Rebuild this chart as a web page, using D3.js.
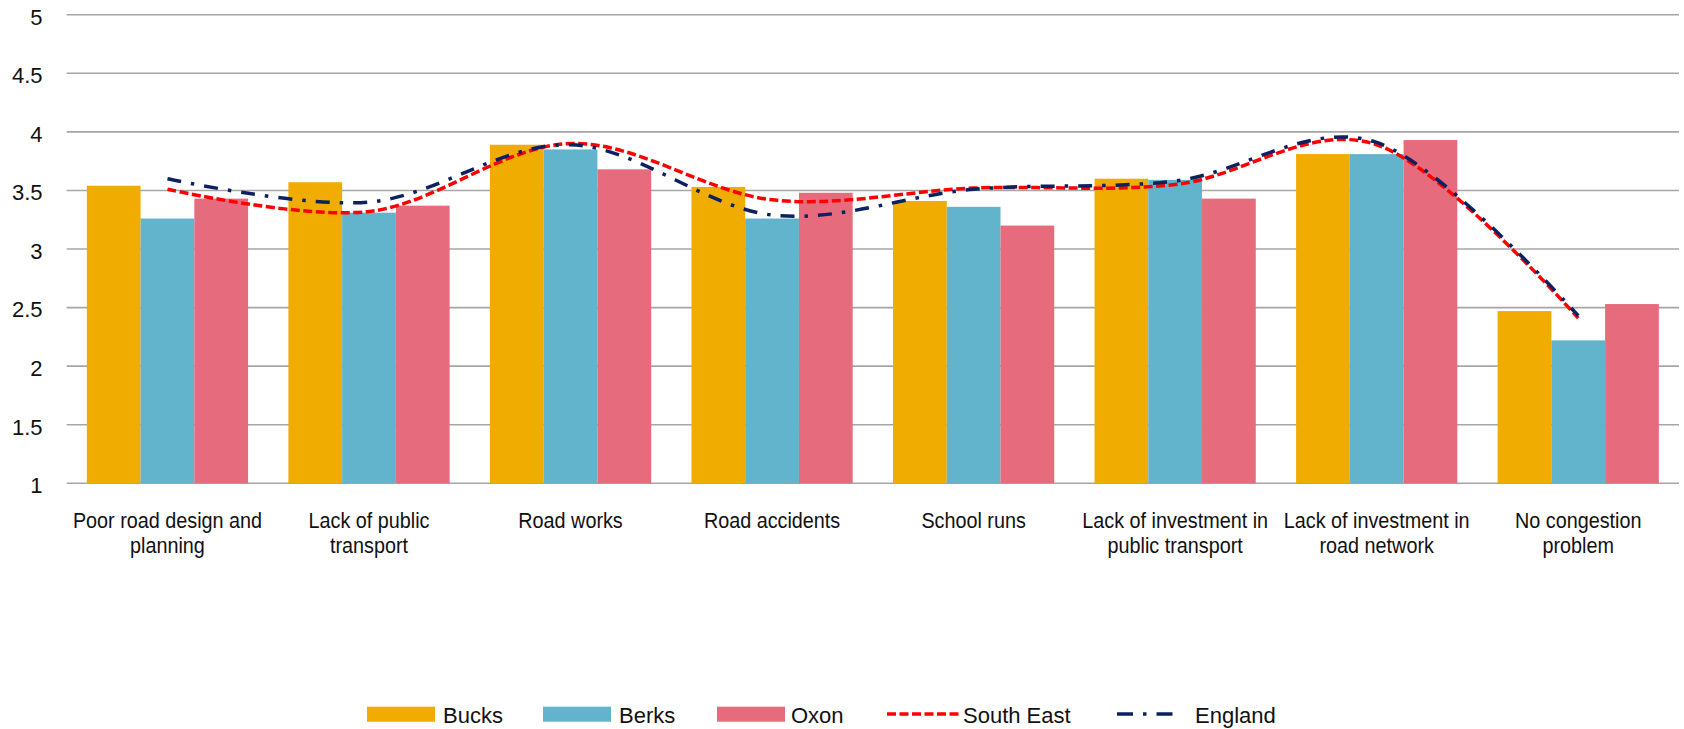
<!DOCTYPE html>
<html>
<head>
<meta charset="utf-8">
<script src="https://cdn.jsdelivr.net/npm/d3@7"></script>
<style>
  html, body { margin: 0; padding: 0; background: #fff; }
  svg { display: block; }
  text { font-family: "Liberation Sans", sans-serif; fill: #111; }
</style>
</head>
<body>
<svg id="chart" width="1684" height="729"></svg>
<script>
const categories = [
  "Poor road design and\nplanning",
  "Lack of public\ntransport",
  "Road works",
  "Road accidents",
  "School runs",
  "Lack of investment in\npublic transport",
  "Lack of investment in\nroad network",
  "No congestion\nproblem"
];
const barSeries = ["Bucks", "Berks", "Oxon"];
const bucks = [3.54, 3.57, 3.89, 3.53, 3.41, 3.60, 3.81, 2.47];
const berks = [3.26, 3.31, 3.85, 3.26, 3.36, 3.59, 3.81, 2.22];
const oxon  = [3.43, 3.37, 3.68, 3.48, 3.20, 3.43, 3.93, 2.53];
const southEast = [3.51, 3.32, 3.90, 3.42, 3.52, 3.55, 3.89, 2.41];
const england   = [3.60, 3.40, 3.89, 3.29, 3.51, 3.58, 3.91, 2.43];
const yTicks = [1, 1.5, 2, 2.5, 3, 3.5, 4, 4.5, 5];

const barColors = { Bucks: "#F0AC00", Berks: "#62B3CC", Oxon: "#E66C7D" };
const seColor = "#FF0000", engColor = "#0B2160";

const svg = d3.select("#chart");
const plotLeft = 66.7, plotRight = 1679, plotTop = 14.7, plotBottom = 483.3;

const x = d3.scaleBand().domain(categories).range([plotLeft, plotRight]).paddingInner(0.2).paddingOuter(0.1);
const xs = d3.scaleBand().domain(barSeries).range([0, x.bandwidth()]).padding(0);
const y = d3.scaleLinear().domain([1, 5]).range([plotBottom, plotTop]);

// gridlines
svg.append("g").selectAll("line").data(yTicks).join("line")
  .attr("x1", plotLeft).attr("x2", plotRight)
  .attr("y1", d => y(d)).attr("y2", d => y(d))
  .attr("stroke", "#A6A6A6").attr("stroke-width", 1.6);

// y labels
svg.append("g").selectAll("text").data(yTicks).join("text")
  .attr("x", 42.5).attr("y", d => y(d) + 4)
  .attr("text-anchor", "end").attr("dominant-baseline", "middle")
  .style("font-size", "22px")
  .text(d => String(d));

// bars
const seriesData = { Bucks: bucks, Berks: berks, Oxon: oxon };
const groups = svg.append("g").selectAll("g").data(categories).join("g")
  .attr("transform", d => `translate(${x(d)},0)`);
groups.selectAll("rect").data((d, i) => barSeries.map(s => ({ s, v: seriesData[s][i] }))).join("rect")
  .attr("x", d => xs(d.s)).attr("width", xs.bandwidth())
  .attr("y", d => y(d.v)).attr("height", d => y(1) - y(d.v))
  .attr("fill", d => barColors[d.s]);

// lines
const line = d3.line()
  .x((d, i) => x(categories[i]) + x.bandwidth() / 2)
  .y(d => y(d))
  .curve(d3.curveCatmullRom.alpha(0));
svg.append("path").datum(southEast).attr("d", line)
  .attr("fill", "none").attr("stroke", seColor).attr("stroke-width", 3.5)
  .attr("stroke-dasharray", "9,3.5");
svg.append("path").datum(england).attr("d", line)
  .attr("fill", "none").attr("stroke", engColor).attr("stroke-width", 3.5)
  .attr("stroke-dasharray", "14,10,3.5,10");

// category labels
const lab = svg.append("g").selectAll("text").data(categories).join("text")
  .attr("text-anchor", "middle")
  .style("font-size", "22px")
  .attr("transform", d => `translate(${x(d) + x.bandwidth() / 2},528) scale(0.9,1)`);
lab.selectAll("tspan").data(d => d.split("\n")).join("tspan")
  .attr("x", 0).attr("dy", (d, i) => i === 0 ? 0 : 25)
  .text(d => d);

// legend
const legendItems = [
  { name: "Bucks", type: "rect", color: barColors.Bucks, x0: 367, x1: 435, tx: 443 },
  { name: "Berks", type: "rect", color: barColors.Berks, x0: 543, x1: 611, tx: 619 },
  { name: "Oxon", type: "rect", color: barColors.Oxon, x0: 717, x1: 785, tx: 791 },
  { name: "South East", type: "se", color: seColor, x0: 887, x1: 959, tx: 963 },
  { name: "England", type: "eng", color: engColor, x0: 1117, x1: 1174, tx: 1195 }
];
const lg = svg.append("g");
legendItems.forEach(it => {
  if (it.type === "rect") {
    lg.append("rect").attr("x", it.x0).attr("y", 706.7).attr("width", it.x1 - it.x0).attr("height", 15).attr("fill", it.color);
  } else {
    lg.append("line").attr("x1", it.x0).attr("x2", it.x1).attr("y1", 714).attr("y2", 714)
      .attr("stroke", it.color).attr("stroke-width", 3.5)
      .attr("stroke-dasharray", it.type === "se" ? "9,3.5" : "16,10,3.5,10");
  }
  lg.append("text").attr("x", it.tx).attr("y", 722.5).style("font-size", "22px").text(it.name);
});
</script>
</body>
</html>
